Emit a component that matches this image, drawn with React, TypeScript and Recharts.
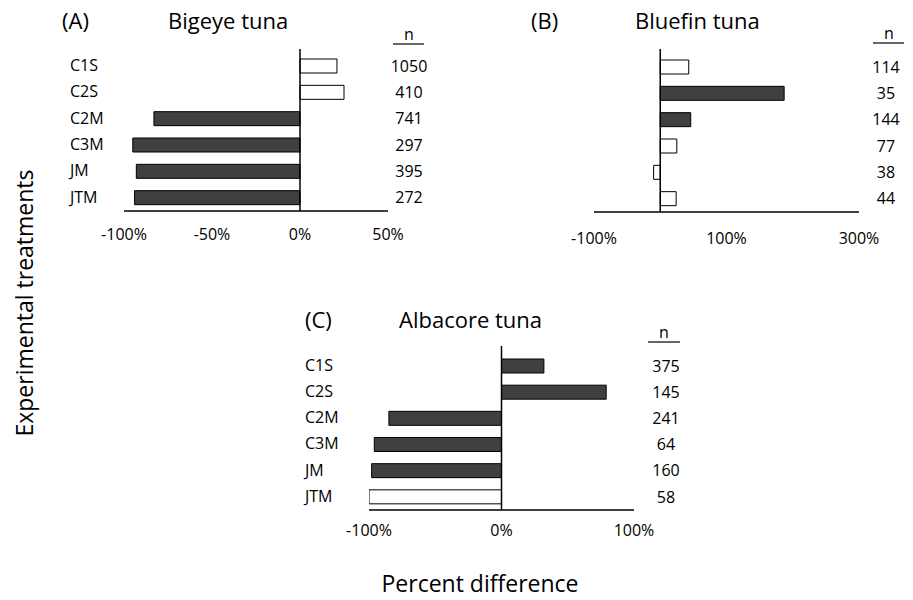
import React from 'react';
import { BarChart, Bar, XAxis, YAxis, ReferenceLine, Cell } from 'recharts';

const treatments = ['C1S', 'C2S', 'C2M', 'C3M', 'JM', 'JTM'];

const bigeyeValues = [21, 25, -83, -95, -93, -94];
const bigeyeN = [1050, 410, 741, 297, 395, 272];
const bigeyeDark = [false, false, true, true, true, true];
const bigeyeTicks = [-100, -50, 0, 50];

const bluefinValues = [43, 187, 46, 25, -10, 24];
const bluefinN = [114, 35, 144, 77, 38, 44];
const bluefinDark = [false, true, true, false, false, false];
const bluefinTicks = [-100, 100, 300];

const albacoreValues = [32, 79, -85, -96, -98, -100];
const albacoreN = [375, 145, 241, 64, 160, 58];
const albacoreDark = [true, true, true, true, true, false];
const albacoreTicks = [-100, 0, 100];

const FONT = '"Open Sans", sans-serif';
const DARK = '#404040';
const W = 913;
const H = 600;

type PanelProps = {
  values: number[];
  ns: number[];
  dark: boolean[];
  ticks: number[];
  plot: { left: number; right: number; top: number; bottom: number };
  padTop: number;
  labelOffset: number | null;
  nOffset: number;
  tickGap: number;
};

function Panel({ values, ns, dark, ticks, plot, padTop, labelOffset, nOffset, tickGap }: PanelProps) {
  const data = treatments.map((cat, i) => ({ cat, v: values[i], n: ns[i] }));
  const LW = 60;
  const RW = 60;
  const XH = 40;
  const LeftTick = (p: any) => {
    if (labelOffset === null) return null;
    return (
      <text
        x={p.x - labelOffset}
        y={p.y}
        dy="0.3em"
        textAnchor="start"
        style={{ fontFamily: FONT, fontSize: 16, fill: '#000' }}
      >
        {p.payload.value}
      </text>
    );
  };
  const RightTick = (p: any) => {
    const idx = treatments.indexOf(p.payload.value);
    return (
      <text
        x={p.x + nOffset}
        y={p.y}
        dy="0.35em"
        textAnchor="middle"
        style={{ fontFamily: FONT, fontSize: 16, fill: '#000' }}
      >
        {ns[idx]}
      </text>
    );
  };
  return (
    <div style={{ position: 'absolute', left: 0, top: 0 }}>
      <BarChart
        width={W}
        height={H}
        layout="vertical"
        data={data}
        margin={{ top: plot.top, left: plot.left - LW, right: W - plot.right - RW, bottom: H - plot.bottom - XH }}
      >
        <XAxis
          type="number"
          domain={[ticks[0], ticks[ticks.length - 1]]}
          ticks={ticks}
          tickFormatter={(v: number) => `${v}%`}
          axisLine={{ stroke: '#000', strokeWidth: 1.5 }}
          tickLine={false}
          tickSize={0}
          tickMargin={tickGap}
          height={XH}
          tick={{ fill: '#000', fontSize: 16, fontFamily: FONT }}
          allowDataOverflow
        />
        <YAxis
          yAxisId="left"
          type="category"
          dataKey="cat"
          width={LW}
          axisLine={false}
          tickLine={false}
          tickSize={0}
          tickMargin={0}
          padding={{ top: padTop, bottom: 0 }}
          tick={LeftTick}
          interval={0}
        />
        <YAxis
          yAxisId="right"
          orientation="right"
          type="category"
          dataKey="cat"
          width={RW}
          axisLine={false}
          tickLine={false}
          tickSize={0}
          tickMargin={0}
          padding={{ top: padTop, bottom: 0 }}
          tick={RightTick}
          interval={0}
        />
        <Bar dataKey="v" yAxisId="left" barSize={14} stroke="#000" strokeWidth={1} isAnimationActive={false}>
          {data.map((d, i) => (
            <Cell key={d.cat} fill={dark[i] ? DARK : '#fff'} />
          ))}
        </Bar>
        <ReferenceLine x={0} yAxisId="left" stroke="#000" strokeWidth={1.5} />
      </BarChart>
    </div>
  );
}

export default function App() {
  return (
    <div style={{ position: 'absolute', left: 0, top: 0, width: W, height: H, background: '#fff', overflow: 'hidden' }}>
      <Panel
        values={bigeyeValues}
        ns={bigeyeN}
        dark={bigeyeDark}
        ticks={bigeyeTicks}
        plot={{ left: 124, right: 388, top: 49, bottom: 211 }}
        padTop={4}
        labelOffset={54}
        nOffset={21}
        tickGap={18}
      />
      <Panel
        values={bluefinValues}
        ns={bluefinN}
        dark={bluefinDark}
        ticks={bluefinTicks}
        plot={{ left: 594, right: 859, top: 49, bottom: 212 }}
        padTop={5}
        labelOffset={null}
        nOffset={27}
        tickGap={21}
      />
      <Panel
        values={albacoreValues}
        ns={albacoreN}
        dark={albacoreDark}
        ticks={albacoreTicks}
        plot={{ left: 369, right: 634, top: 346, bottom: 510 }}
        padTop={7}
        labelOffset={64}
        nOffset={32}
        tickGap={15}
      />
      <svg width={W} height={H} style={{ position: 'absolute', left: 0, top: 0 }}>
        <g fontFamily={FONT} fill="#000">
          <text x={62} y={29} fontSize={22}>(A)</text>
          <text x={168} y={29} fontSize={22}>Bigeye tuna</text>
          <text x={531} y={29} fontSize={22}>(B)</text>
          <text x={635} y={29} fontSize={22}>Bluefin tuna</text>
          <text x={305} y={328} fontSize={22}>(C)</text>
          <text x={399} y={328} fontSize={22}>Albacore tuna</text>

          <text x={409} y={40} fontSize={16} textAnchor="middle">n</text>
          <line x1={393} x2={424} y1={44} y2={44} stroke="#000" strokeWidth={1.2} />
          <text x={889} y={39} fontSize={16} textAnchor="middle">n</text>
          <line x1={873} x2={904} y1={43} y2={43} stroke="#000" strokeWidth={1.2} />
          <text x={664} y={338} fontSize={16} textAnchor="middle">n</text>
          <line x1={648} x2={680} y1={342} y2={342} stroke="#000" strokeWidth={1.2} />

          <text x={480} y={592} fontSize={23} textAnchor="middle">Percent difference</text>
          <text x={0} y={0} fontSize={23} textAnchor="middle" transform="translate(33 303) rotate(-90)">
            Experimental treatments
          </text>
        </g>
      </svg>
    </div>
  );
}
